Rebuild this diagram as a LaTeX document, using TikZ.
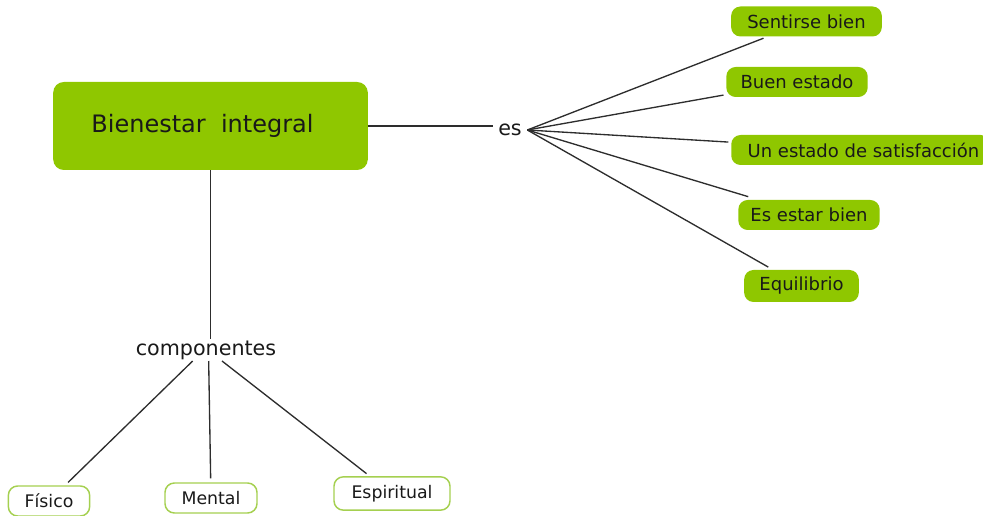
\documentclass[tikz,border=0pt]{standalone}
\usepackage{fontspec}
\setmainfont{DejaVu Sans}
\usepackage{xcolor}
\definecolor{leaf}{RGB}{143,199,0}
\definecolor{leafline}{RGB}{165,208,80}
\definecolor{ink}{RGB}{25,25,25}
\definecolor{wire}{RGB}{45,45,45}
\tikzset{
  greenbox/.style={fill=leaf, rounded corners=7pt, minimum height=22.5pt, inner sep=0pt, text=ink, font=\fontsize{13.5}{16}\selectfont},
  whitebox/.style={draw=leafline, line width=1.1pt, fill=white, rounded corners=7pt, minimum height=22.5pt, inner sep=0pt, text=ink, font=\fontsize{13}{16}\selectfont},
  link/.style={draw=wire, line width=1pt},
  word/.style={text=ink, inner sep=1pt, font=\fontsize{15.5}{18}\selectfont}
}

\begin{document}
\begin{tikzpicture}[x=0.75pt,y=-0.75pt]

        \useasboundingbox (0,0) rectangle (983,516);
        \clip (0,0) rectangle (983,516);

        % main idea
        \node[fill=leaf, rounded corners=8pt, minimum width=236pt, minimum height=66pt, text=ink, font=\fontsize{18}{21}\selectfont] (main) at (210.5,126) {Bienestar\ \ integral\hspace*{12pt}};

        % linking words
        \node[word, inner xsep=4pt] (es) at (510,130) {es};
        \node[word] (comp) at (206,350) {componentes};

        % what it is
        \node[greenbox, minimum width=113pt] (sent) at (806.5,21.5) {Sentirse bien};
        \node[greenbox, minimum width=106pt] (buen) at (797,82) {Buen estado};
        \node[greenbox, minimum width=194pt, anchor=west] (satis) at (731,150) {\ Un estado de satisfacción};
        \node[greenbox, minimum width=106pt] (esbien) at (809,215) {Es estar bien};
        \node[greenbox, minimum width=86pt, minimum height=24pt] (equil) at (801.5,286) {Equilibrio};

        % components
        \node[whitebox, minimum width=61pt] (fisico) at (49,501) {Físico};
        \node[whitebox, minimum width=69pt] (mental) at (211,498) {Mental};
        \node[whitebox, minimum width=87pt, minimum height=25pt] (espir) at (392,493.5) {Espiritual};

        \draw[link] (main.east) -- (main.east -| es.west);
        \draw[link, shorten >=3pt] (es.east) -- (sent);
        \draw[link, shorten >=2pt] (es.east) -- (buen);
        \draw[link, shorten >=2pt] (es.east) -- (satis);
        \draw[link, shorten >=8pt] (es.east) -- (esbien);
        \draw[link, shorten >=4pt] (es.east) -- (equil);

        \draw[link] (main.south) -- (main.south |- comp.north);
        \draw[link, shorten >=3pt] ([xshift=-10pt]comp.south) -- (fisico);
        \draw[link, shorten >=3pt] ([xshift=2pt]comp.south) -- (mental);
        \draw[link, shorten >=3pt] ([xshift=12pt]comp.south) -- (espir);

      \end{tikzpicture}
\end{document}
